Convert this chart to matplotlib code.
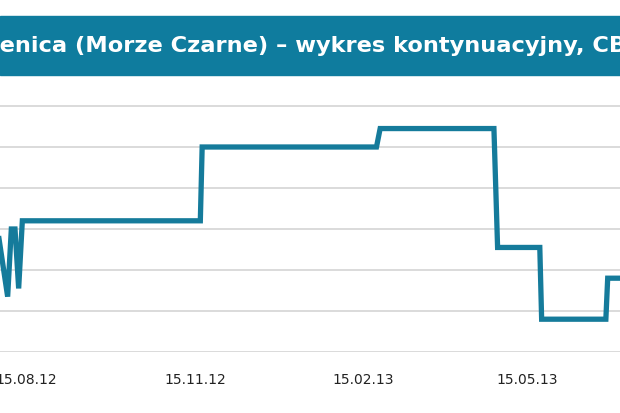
"""Black Sea wheat continuation chart (CBOT), cropped banner style."""
import matplotlib
matplotlib.use("Agg")
import matplotlib.pyplot as plt
import matplotlib.dates as mdates
import pandas as pd
from matplotlib.patches import Rectangle

TEAL = "#0f7c9e"
LINE = "#157b9b"

# ---- data (USD/t approx.) -------------------------------------------------
dates = ["2012-07-31", "2012-08-05", "2012-08-07", "2012-08-09", "2012-08-11",
         "2012-08-13", "2012-11-18", "2012-11-19", "2013-02-22", "2013-02-24",
         "2013-04-27", "2013-04-29", "2013-05-22", "2013-05-23", "2013-06-27",
         "2013-06-28", "2013-07-10"]
prices = [258.5, 243.5, 260.0, 260.0, 245.5,
          262.0, 262.0, 280.0, 280.0, 284.5,
          284.5, 255.5, 255.5, 238.0, 238.0,
          248.0, 248.0]
tick_dates = ["2012-08-15", "2012-11-15", "2013-02-15", "2013-05-15"]
grid_levels = [230, 240, 250, 260, 270, 280, 290]
title = "Pszenica (Morze Czarne) \u2013 wykres kontynuacyjny, CBOT"

x = pd.to_datetime(dates)
ticks = pd.to_datetime(tick_dates)

fig = plt.figure(figsize=(6.2, 4.13), dpi=100)
W, H = 620, 413

# banner (the reference is cropped, so the title runs off both edges)
fig.patches.append(Rectangle((0, 1 - 75 / H), 1, 59 / H, transform=fig.transFigure,
                             color=TEAL, zorder=0))
probe = fig.text(0, 0, "Psz", fontsize=16.2, fontweight="bold", alpha=0)
r = fig.canvas.get_renderer()
off = probe.get_window_extent(r).width / W
probe.remove()
fig.text(-off, 1 - 46 / H, title, color="white", fontsize=16.2,
         fontweight="bold", va="center", ha="left")

# plot area: 230 at y=352px, 4.1 px per unit
bottom = (H - 352) / H
ax = fig.add_axes([0, bottom, 1, 63 * 4.1 / H])
ax.plot(x, prices, color=LINE, lw=3.8, solid_joinstyle="miter", zorder=3)
for g in grid_levels:
    ax.axhline(g, color="#d8d8d8", lw=1.3, zorder=1)

d0 = mdates.date2num(pd.Timestamp("2012-08-15"))
ax.set_xlim(d0 - 26 / 1.835, d0 + 594 / 1.835)
ax.set_ylim(230, 293)
ax.set_xticks(ticks)
ax.xaxis.set_major_formatter(mdates.DateFormatter("%d.%m.%y"))
ax.tick_params(axis="x", length=0, pad=15, labelsize=10, labelcolor="#222222")
ax.set_yticks([])
for s in ax.spines.values():
    s.set_visible(False)
ax.patch.set_alpha(0)

fig.savefig("out.png", dpi=100)
